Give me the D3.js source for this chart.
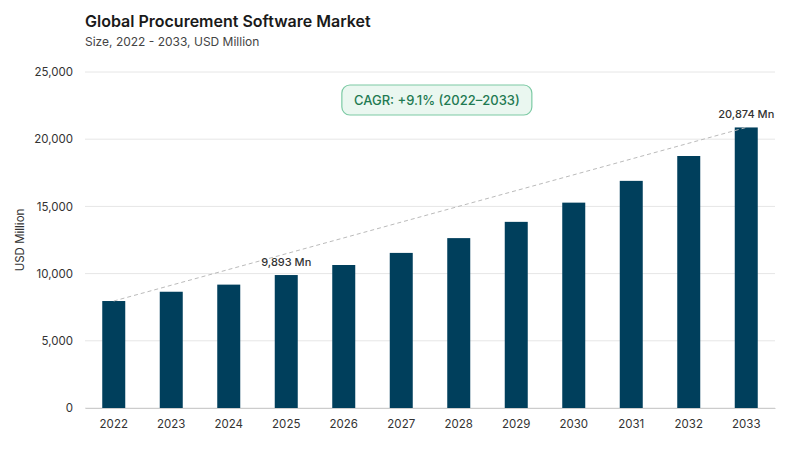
<!DOCTYPE html>
<html><head><meta charset="utf-8">
<script src="https://cdn.jsdelivr.net/npm/d3@7"></script>
<style>body{margin:0;background:#fff;font-family:Inter,"Noto Sans",sans-serif}</style>
</head><body><div id="chart"></div>
<script>
const years = ['2022','2023','2024','2025','2026','2027','2028','2029','2030','2031','2032','2033']
const values = [7960, 8650, 9180, 9893, 10640, 11540, 12640, 13850, 15280, 16900, 18750, 20874]
const yTicks = [0, 5000, 10000, 15000, 20000, 25000]

const W = 800, H = 450
const margin = { top: 72, right: 25, bottom: 42, left: 85 }
const width = W - margin.left - margin.right
const height = H - margin.top - margin.bottom

const root = d3.select('#chart').append('svg').attr('width', W).attr('height', H)
root.append('text').text('Global Procurement Software Market')
  .attr('x', 85).attr('y', 27).attr('font-size', 16).attr('font-weight', 600).attr('fill', '#1a1a1a')
root.append('text').text('Size, 2022 - 2033, USD Million')
  .attr('x', 85).attr('y', 46).attr('font-size', 12).attr('fill', '#444')

const svg = root.append('g').attr('transform', `translate(${margin.left},${margin.top})`)

const x = d3.scaleBand().domain(years).range([0, width]).paddingInner(0.6).paddingOuter(0.3)
const y = d3.scaleLinear().domain([0, 25000]).range([height, 0])

svg.selectAll('.grid').data(yTicks).join('line')
  .attr('x1', 0).attr('x2', width).attr('y1', d => y(d)).attr('y2', d => y(d))
  .attr('stroke', '#e6e6e6')

const yAxis = svg.append('g').call(d3.axisLeft(y).tickValues(yTicks).tickFormat(d3.format(',')).tickSize(0).tickPadding(12))
yAxis.select('.domain').remove()
yAxis.selectAll('text').attr('font-size', 11.5).attr('fill', '#333').attr('font-family', 'Inter')

const xAxis = svg.append('g').attr('transform', `translate(0,${height})`)
  .call(d3.axisBottom(x).tickSize(0).tickPadding(12))
xAxis.select('.domain').attr('stroke', '#ccc')
xAxis.selectAll('text').attr('font-size', 11.5).attr('fill', '#333').attr('font-family', 'Inter')

root.append('text').text('USD Million').attr('transform', `translate(24,${margin.top + height / 2}) rotate(-90)`)
  .attr('text-anchor', 'middle').attr('font-size', 11.5).attr('fill', '#333')

svg.selectAll('rect.bar').data(values).join('rect').attr('class', 'bar')
  .attr('x', (d, i) => x(years[i])).attr('width', x.bandwidth())
  .attr('y', d => y(d)).attr('height', d => height - y(d)).attr('fill', '#003f5c')

const last = values.length - 1
svg.append('line')
  .attr('x1', x(years[0]) + x.bandwidth() / 2).attr('y1', y(values[0]))
  .attr('x2', x(years[last]) + x.bandwidth() / 2).attr('y2', y(values[last]))
  .attr('stroke', '#bbb').attr('stroke-dasharray', '4,3')

const labels = [3, last]
svg.selectAll('.lbl').data(labels).join('text')
  .attr('x', i => x(years[i]) + x.bandwidth() / 2).attr('y', i => y(values[i]) - 9)
  .attr('text-anchor', 'middle').attr('font-size', 11).attr('font-weight', 500).attr('fill', '#333')
  .text(i => d3.format(',')(values[i]) + ' Mn')

const box = svg.append('g').attr('transform', `translate(${x('2026') + 0.2 * x.bandwidth() + 5},13)`)
box.append('rect').attr('width', 190).attr('height', 30).attr('rx', 8)
  .attr('fill', '#eaf7f0').attr('stroke', '#7ccaa4').attr('stroke-width', 1.2)
box.append('text').text('CAGR: +9.1% (2022–2033)').attr('x', 95).attr('y', 20)
  .attr('text-anchor', 'middle').attr('font-size', 13).attr('font-weight', 500).attr('fill', '#1f7a52')
</script></body></html>
